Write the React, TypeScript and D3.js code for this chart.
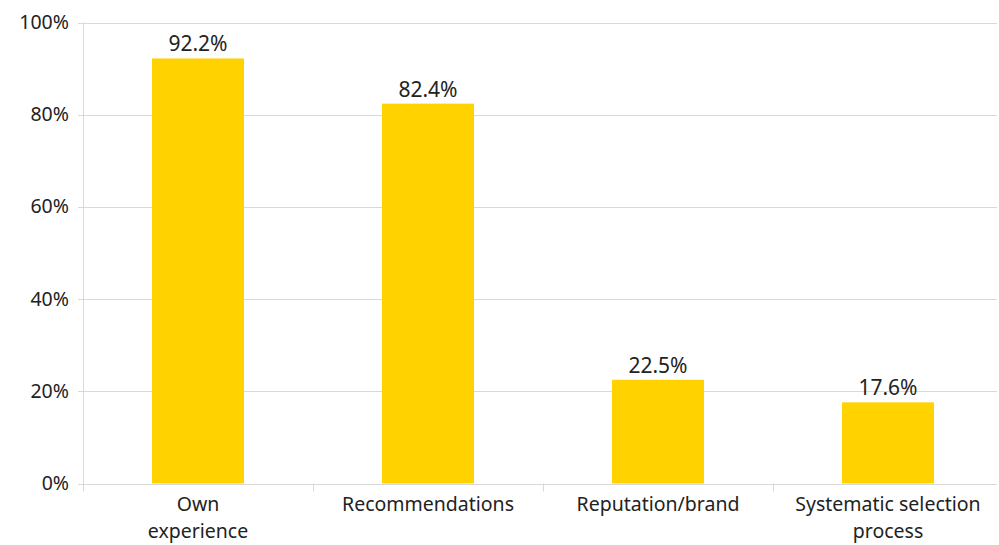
import React from "react";
import * as d3 from "d3";

const categories = ["Own experience", "Recommendations", "Reputation/brand", "Systematic selection process"];
const categoryLines = [["Own", "experience"], ["Recommendations"], ["Reputation/brand"], ["Systematic selection", "process"]];
const values = [92.2, 82.4, 22.5, 17.6];
const yTicks = [0, 20, 40, 60, 80, 100];

const W = 999;
const H = 545;
const left = 83;
const top = 22.5;
const bottom = 483.5;
const font = "'Noto Sans', 'Open Sans', sans-serif";

export default function App() {
  const x = d3.scaleBand<string>().domain(categories).range([left, left + 4 * 230]).paddingInner(0.6).paddingOuter(0.3);
  const y = d3.scaleLinear().domain([0, 100]).range([bottom, top]);
  const step = x.step();

  return (
    <svg width={W} height={H} style={{ position: "absolute", left: 0, top: 0, background: "#fff" }}>
      {yTicks.map((t) => (
        <g key={t}>
          <line x1={left - 5} x2={W - 2} y1={Math.round(y(t)) + 0.5} y2={Math.round(y(t)) + 0.5} stroke="#d9d9d9" strokeWidth={1} />
          <text x={69} y={y(t) + 6.5} textAnchor="end" fontFamily={font} fontSize={19.5} fill="#222">
            {t}%
          </text>
        </g>
      ))}
      <line x1={left + 0.5} x2={left + 0.5} y1={top} y2={bottom + 8} stroke="#d9d9d9" />
      {categories.slice(1).map((c, i) => {
        const xx = Math.round(left + (i + 1) * step) + 0.5;
        return <line key={c} x1={xx} x2={xx} y1={bottom} y2={bottom + 8} stroke="#d9d9d9" />;
      })}
      {categories.map((c, i) => (
        <g key={c}>
          <rect x={x(c)!} y={y(values[i])} width={x.bandwidth()} height={bottom - y(values[i])} fill="#FFD200" />
          <text x={x(c)! + x.bandwidth() / 2} y={y(values[i]) - 7} textAnchor="middle" fontFamily={font} fontSize={21} fill="#222">
            {values[i].toFixed(1)}%
          </text>
          {categoryLines[i].map((ln, j) => (
            <text key={j} x={x(c)! + x.bandwidth() / 2} y={511 + j * 27} textAnchor="middle" fontFamily={font} fontSize={19.5} fill="#222">
              {ln}
            </text>
          ))}
        </g>
      ))}
    </svg>
  );
}
